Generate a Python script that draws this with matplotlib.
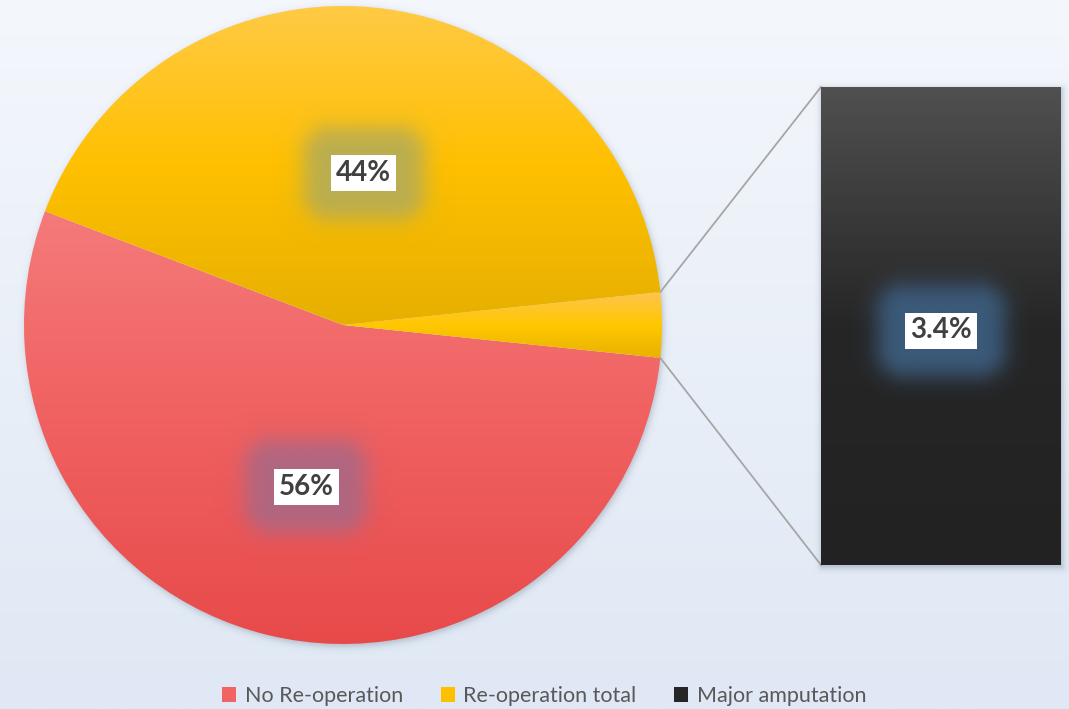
import numpy as np
import matplotlib
matplotlib.use('Agg')
import matplotlib.pyplot as plt
from matplotlib.patches import Rectangle, Patch
from matplotlib.colors import to_rgb

plt.rcParams['font.family'] = ['Lato', 'DejaVu Sans']

categories = ['No Re-operation', 'Re-operation total', 'Major amputation']
values = [56, 44, 3.4]
value_labels = ['56%', '44%', '3.4%']

W, H = 1069, 709

# top/middle/bottom colours of each fill
red_stops = ['#f57a7a', '#f06060', '#e84a4a']
yellow_stops = ['#ffca45', '#ffc000', '#e6b000']
small_stops = ['#ffc44e', '#ffc800', '#e8b200']
bar_stops = ['#505050', '#262626', '#222222']
legend_colors = ['#f26464', '#ffc000', '#262626']
glow_colors = ['#ac6884', '#b6ad55', '#3d5e80']


def gradient(ax, patch, stops, extent, z):
    n = 256
    pos = np.linspace(0, 1, len(stops))
    t = np.linspace(0, 1, n)
    rgb = np.array([to_rgb(c) for c in stops])
    arr = np.stack([np.interp(t, pos, rgb[:, k]) for k in range(3)], axis=-1)
    arr = arr[:, None, :].repeat(2, axis=1)
    im = ax.imshow(arr, extent=extent, origin='upper', aspect='auto',
                   interpolation='bilinear', zorder=z)
    im.set_clip_path(patch)
    return im


def soft_box(ax, x0, x1, y0, y1, color, amax, spread, width, z, dx=0, dy=0):
    # blurred halo around an axis-aligned box (data units = pixels)
    m = spread + 5 * width
    xs = np.arange(x0 - m, x1 + m, 1.0)
    ys = np.arange(y1 + m, y0 - m, -1.0)
    X, Y = np.meshgrid(xs, ys)
    cx, cy = (x0 + x1) / 2 + dx, (y0 + y1) / 2 + dy
    ddx = np.clip(np.abs(X - cx) - (x1 - x0) / 2, 0, None)
    ddy = np.clip(np.abs(Y - cy) - (y1 - y0) / 2, 0, None)
    d = np.hypot(ddx, ddy)
    a = amax / (1 + np.exp((d - spread) / width))
    img = np.zeros(X.shape + (4,))
    img[..., :3] = to_rgb(color)
    img[..., 3] = a
    ax.imshow(img, extent=(xs[0], xs[-1], ys[-1], ys[0]), origin='upper',
              aspect='auto', interpolation='bilinear', zorder=z)


fig = plt.figure(figsize=(W / 100, H / 100), dpi=100)
ax = fig.add_axes([0, 0, 1, 1])

# pie: the small slice is centred on the right-hand side
cx, cy, R = 343, 384, 319
total = sum(values)
start = -(values[2] / total * 360) / 2 - values[0] / total * 360
wedges, _ = ax.pie([values[0], values[2], values[1]], startangle=start,
                   center=(cx, cy), radius=R, counterclock=True,
                   colors=['none'] * 3, wedgeprops=dict(linewidth=0))
for w in wedges:
    w.set_zorder(2)

# soft shadow under the pie
yy, xx = np.mgrid[H:0:-1.0, 0:W:1.0]
dist = np.hypot(xx - cx - 1, yy - cy + 2) - R
shadow = np.zeros(xx.shape + (4,))
shadow[..., :3] = to_rgb('#5a6b80')
shadow[..., 3] = 0.35 / (1 + np.exp(dist / 2.0)) * (dist > -6)
ax.imshow(shadow, extent=(0, W, 0, H), origin='upper', aspect='auto', zorder=1)

for w, stops in zip(wedges, [red_stops, small_stops, yellow_stops]):
    ext = w.get_path().get_extents()
    gradient(ax, w, stops, (ext.x0, ext.x1, ext.y0, ext.y1), 3)

# bar for the broken-out slice
bx0, bx1, by0, by1 = 821, 1061, 144, 622
soft_box(ax, bx0, bx1, by0, by1, '#5a6b80', 0.45, 1, 2.0, 3, dx=1, dy=-2)
bar = Rectangle((bx0, by0), bx1 - bx0, by1 - by0, facecolor='none',
                linewidth=0, zorder=4)
ax.add_patch(bar)
gradient(ax, bar, bar_stops, (bx0, bx1, by0, by1), 4)

# connector lines from the small slice to the bar corners
sw = wedges[1]
for ang, yb in [(sw.theta2, by1), (sw.theta1, by0)]:
    px = cx + R * np.cos(np.radians(ang))
    py = cy + R * np.sin(np.radians(ang))
    ax.plot([px, bx0], [py, yb], color='#a6a6a6', lw=1.3, zorder=2.5)

# value labels, halfway out along each slice's middle angle
label_pos = []
for w in [wedges[0], wedges[2]]:
    mid = np.radians((w.theta1 + w.theta2) / 2)
    label_pos.append((cx + 0.5 * R * np.cos(mid),
                      cy + 0.5 * R * np.sin(mid) - 4))
label_pos.append(((bx0 + bx1) / 2, (by0 + by1) / 2 - 2))
texts = []
for (x, y), s in zip(label_pos, value_labels):
    t = ax.text(x, y, s, ha='center', va='center_baseline', fontsize=20,
                fontweight='bold', color='#404040', zorder=10,
                bbox=dict(boxstyle='square,pad=0.18', facecolor='white',
                          edgecolor='none'))
    texts.append(t)

fig.legend(handles=[Patch(facecolor=c, edgecolor='none') for c in legend_colors],
           labels=categories, loc='center', ncol=3, frameon=False,
           bbox_to_anchor=(0.509, 0.018), fontsize=15.5, labelcolor='#595959',
           handlelength=0.65, handleheight=0.65, handletextpad=0.4,
           columnspacing=1.75, borderpad=0)

ax.set_xlim(0, W)
ax.set_ylim(0, H)
ax.set_aspect('auto')
ax.axis('off')

# glow behind each label box
fig.canvas.draw()
r = fig.canvas.get_renderer()
for t, gc in zip(texts, glow_colors):
    bb = t.get_bbox_patch().get_window_extent(r)
    soft_box(ax, bb.x0, bb.x1, bb.y0, bb.y1, gc, 0.95, 28, 6.5, 8)

# background
bg = np.linspace(0, 1, 256)[:, None]
top, bot = np.array(to_rgb('#f4f7fc')), np.array(to_rgb('#dfe8f4'))
bgimg = top + (bot - top) * bg
ax.imshow(bgimg[:, None, :].repeat(2, axis=1).reshape(256, 2, 3),
          extent=(0, W, 0, H), origin='upper', aspect='auto', zorder=0)
ax.set_xlim(0, W)
ax.set_ylim(0, H)

fig.savefig('out.png', dpi=100)
